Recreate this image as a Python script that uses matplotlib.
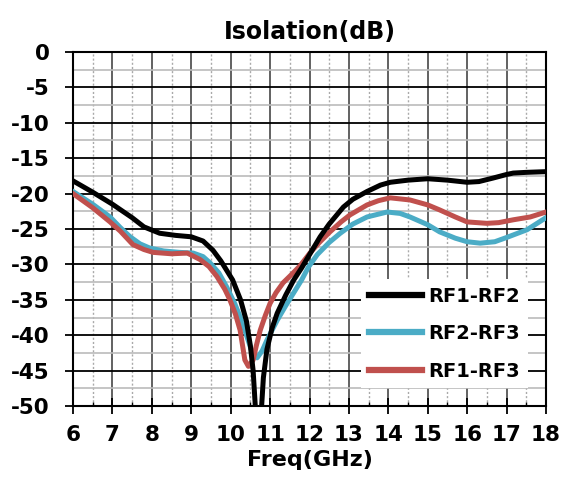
import matplotlib.pyplot as plt
from matplotlib.ticker import MultipleLocator

plt.rcParams['font.family'] = ['DejaVu Sans']
plt.rcParams['font.weight'] = 'bold'
plt.rcParams['axes.unicode_minus'] = False

# RF1-RF2
f_12 = [6.0, 6.5, 7.0, 7.5, 7.8, 8.2, 8.6, 9.0, 9.3, 9.55, 9.75, 10.05, 10.25, 10.4,
        10.5, 10.57, 10.63, 10.7, 10.78, 10.83, 10.92, 11.05, 11.18, 11.4, 11.6, 11.8,
        11.96, 12.27, 12.5, 12.86, 13.1, 13.46, 13.8, 14.05, 14.5, 15.0, 15.5, 16.0,
        16.3, 16.66, 17.0, 17.17, 17.5, 18.0]
iso_12 = [-18.2, -19.8, -21.5, -23.4, -24.7, -25.6, -25.9, -26.1, -26.7, -28.0, -29.5,
          -32.2, -35.0, -38.0, -41.5, -45.0, -50.5, -56.0, -50.5, -46.0, -42.0, -39.0,
          -36.9, -34.3, -32.2, -30.5, -29.0, -26.1, -24.3, -21.9, -20.8, -19.7, -18.8,
          -18.4, -18.1, -17.9, -18.1, -18.4, -18.3, -17.8, -17.3, -17.1, -17.0, -16.9]

# RF2-RF3
f_23 = [6.0, 6.5, 6.94, 7.2, 7.45, 7.7, 7.95, 8.3, 8.7, 9.05, 9.3, 9.48, 9.7, 9.9,
        10.1, 10.24, 10.4, 10.55, 10.67, 10.8, 10.92, 11.05, 11.18, 11.4, 11.6, 11.8,
        11.97, 12.2, 12.5, 12.78, 13.1, 13.46, 13.97, 14.3, 14.55, 15.0, 15.3, 15.7,
        16.0, 16.33, 16.7, 17.0, 17.52, 18.0]
iso_23 = [-19.7, -21.5, -23.3, -24.8, -26.1, -27.1, -27.7, -28.1, -28.3, -28.4, -28.9,
          -29.8, -31.2, -33.2, -35.5, -37.4, -40.0, -42.5, -43.2, -42.2, -40.7, -39.3,
          -37.9, -35.8, -34.0, -32.2, -30.4, -28.6, -26.9, -25.6, -24.3, -23.3, -22.6,
          -22.8, -23.3, -24.4, -25.4, -26.3, -26.8, -27.0, -26.8, -26.2, -25.1, -23.4]

# RF1-RF3
f_13 = [6.0, 6.5, 6.94, 7.2, 7.52, 7.8, 8.03, 8.5, 8.9, 9.22, 9.45, 9.65, 9.85, 9.98,
        10.12, 10.24, 10.36, 10.45, 10.57, 10.65, 10.75, 10.88, 11.0, 11.15, 11.33,
        11.55, 11.76, 12.01, 12.25, 12.52, 12.8, 13.03, 13.46, 13.75, 14.05, 14.55,
        15.0, 15.3, 15.7, 16.0, 16.5, 16.8, 17.17, 17.6, 18.0]
iso_13 = [-20.0, -22.0, -24.0, -25.3, -27.2, -27.9, -28.3, -28.5, -28.4, -29.3, -30.3,
          -31.7, -33.5, -35.0, -37.0, -39.3, -43.5, -44.4, -43.5, -41.5, -39.3, -37.2,
          -35.5, -34.0, -32.6, -31.4, -30.2, -28.4, -26.9, -25.4, -24.0, -23.0, -21.6,
          -21.0, -20.6, -20.9, -21.6, -22.3, -23.3, -24.0, -24.2, -24.1, -23.7, -23.3,
          -22.6]

fig = plt.figure(figsize=(5.66, 4.86), dpi=100)
ax = fig.add_axes([73 / 566, 80 / 486, 473 / 566, 354 / 486])

ax.plot(f_12, iso_12, color='black', lw=3.6, label='RF1-RF2', zorder=5)
ax.plot(f_23, iso_23, color='#4bacc6', lw=3.6, label='RF2-RF3', zorder=4)
ax.plot(f_13, iso_13, color='#c0504d', lw=3.6, label='RF1-RF3', zorder=4)

ax.set_xlim(6, 18)
ax.set_ylim(-50, 0)
ax.xaxis.set_major_locator(MultipleLocator(1))
ax.xaxis.set_minor_locator(MultipleLocator(0.5))
ax.yaxis.set_major_locator(MultipleLocator(5))
ax.yaxis.set_minor_locator(MultipleLocator(2.5))

ax.grid(which='major', axis='x', color='#555555', lw=1.3)
ax.grid(which='major', axis='y', color='black', lw=1.3)
ax.grid(which='minor', axis='x', color='#aaaaaa', lw=1.0, linestyle=(0, (1.5, 1.5)))
ax.grid(which='minor', axis='y', color='#bbbbbb', lw=1.2)
ax.set_axisbelow(True)

for s in ax.spines.values():
    s.set_linewidth(1.5)

ax.tick_params(axis='y', which='major', direction='out', length=6, width=1.3,
               labelsize=15.5, pad=11)
ax.tick_params(axis='y', which='minor', length=0)
ax.tick_params(axis='x', which='major', direction='inout', length=11, width=1.3,
               labelsize=15.5, pad=8)
ax.tick_params(axis='x', which='minor', direction='in', length=3, width=1)

ax.set_title('Isolation(dB)', fontsize=17, fontweight='bold', pad=9)
ax.set_xlabel('Freq(GHz)', fontsize=16, fontweight='bold', labelpad=4)

leg = ax.legend(loc='lower right', bbox_to_anchor=(0.962, 0.05), frameon=True,
                fancybox=False, edgecolor='none', framealpha=1, fontsize=14,
                handlelength=2.7, handletextpad=0.35, labelspacing=0.95,
                borderpad=0.4, borderaxespad=0)
for line in leg.get_lines():
    line.set_linewidth(4.5)

fig.savefig('out.png', dpi=100)
